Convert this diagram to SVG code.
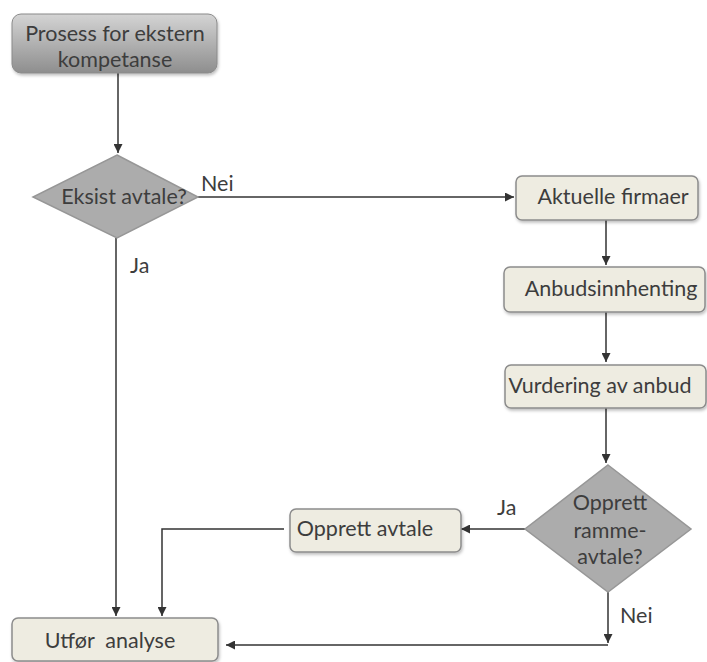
<svg xmlns="http://www.w3.org/2000/svg" width="707" height="662" viewBox="0 0 707 662">
<defs>
<linearGradient id="gTop" x1="0" y1="0" x2="0" y2="1">
<stop offset="0" stop-color="#d4d4d4"/>
<stop offset="1" stop-color="#8e8e8e"/>
</linearGradient>
<filter id="sh" x="-10%" y="-10%" width="130%" height="140%">
<feDropShadow dx="1" dy="2" stdDeviation="1.5" flood-color="#000" flood-opacity="0.25"/>
</filter>
<marker id="ar" viewBox="0 0 10 10" refX="10" refY="5" markerWidth="9" markerHeight="9" markerUnits="userSpaceOnUse" orient="auto">
<path d="M0,0 L10,5 L0,10 z" fill="#333"/>
</marker>
</defs>
<style>
.box{fill:#eeece1;stroke:#8c8c8c;stroke-width:1.5;filter:url(#sh)}
.dia{fill:#acacac;stroke:#979797;stroke-width:1.5}
.t{font-family:Lato,"Liberation Sans",sans-serif;font-size:21.5px;fill:#3d3d3d}
.c{text-anchor:middle}
.ln{fill:none;stroke:#333;stroke-width:1.5}
</style>
<rect width="707" height="662" fill="#fff"/>
<g id="connectors">
<path class="ln" d="M118,73 V153" marker-end="url(#ar)"/>
<path class="ln" d="M198,197 H514" marker-end="url(#ar)"/>
<path class="ln" d="M116,238 V616" marker-end="url(#ar)"/>
<path class="ln" d="M606,220 V265" marker-end="url(#ar)"/>
<path class="ln" d="M606,312 V362" marker-end="url(#ar)"/>
<path class="ln" d="M606,408 V463" marker-end="url(#ar)"/>
<path class="ln" d="M525,529 H461" marker-end="url(#ar)"/>
<path class="ln" d="M284,529 H162 V616" marker-end="url(#ar)"/>
<path class="ln" d="M608,592 V643" marker-end="url(#ar)"/>
<path class="ln" d="M608,645 H226" marker-end="url(#ar)"/>
<text class="t" x="201" y="191">Nei</text>
<text class="t" x="130" y="273">Ja</text>
<text class="t" x="497" y="515">Ja</text>
<text class="t" x="620" y="623">Nei</text>
</g>
<g id="start">
<rect x="12" y="14" width="205" height="59" rx="9" fill="url(#gTop)" stroke="#8a8a8a" stroke-width="1" filter="url(#sh)"/>
<text class="t c" x="115" y="41">Prosess for ekstern</text>
<text class="t c" x="115" y="67">kompetanse</text>
</g>
<g id="eksist">
<polygon class="dia" points="117,155 198,197 117,238 33,197"/>
<text class="t c" x="124" y="204">Eksist avtale?</text>
</g>
<g id="aktuelle">
<rect class="box" x="516" y="176" width="182" height="44" rx="6"/>
<text class="t c" x="613" y="204">Aktuelle firmaer</text>
</g>
<g id="anbud">
<rect class="box" x="504" y="267" width="201" height="45" rx="6"/>
<text class="t c" x="611" y="296">Anbudsinnhenting</text>
</g>
<g id="vurdering">
<rect class="box" x="505" y="365" width="201" height="43" rx="6"/>
<text class="t c" x="600" y="393">Vurdering av anbud</text>
</g>
<g id="ramme">
<polygon class="dia" points="608,465 691,529 608,592 525,529"/>
<text class="t c" x="610" y="510">Opprett</text>
<text class="t c" x="610" y="538">ramme-</text>
<text class="t c" x="610" y="564">avtale?</text>
</g>
<g id="opprett">
<rect class="box" x="290" y="509" width="171" height="43" rx="6"/>
<text class="t c" x="365" y="536">Opprett avtale</text>
</g>
<g id="utfor">
<rect class="box" x="12" y="618" width="206" height="43" rx="6"/>
<text class="t c" x="110" y="648" xml:space="preserve">Utfør  analyse</text>
</g>
</svg>
